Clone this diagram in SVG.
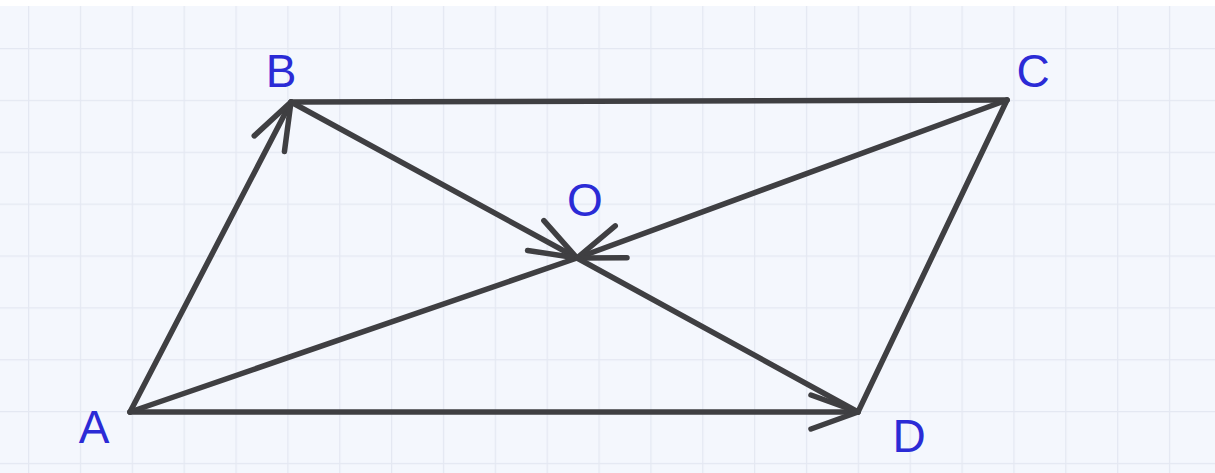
<svg xmlns="http://www.w3.org/2000/svg" width="1215" height="473" viewBox="0 0 1215 473">
  <defs>
    <pattern id="grid" x="28" y="48" width="51.86" height="51.86" patternUnits="userSpaceOnUse">
      <rect width="51.86" height="51.86" fill="#f4f7fd"/>
      <path d="M 0 0 L 51.86 0 M 0 0 L 0 51.86" stroke="#e4e8f2" stroke-width="2.5" fill="none"/>
    </pattern>
    <marker id="chev" markerUnits="userSpaceOnUse" markerWidth="120" markerHeight="120" viewBox="-60 -60 120 120" refX="0" refY="0" orient="auto" overflow="visible">
      <path d="M -47 -17 L 0 0 L -47 17" fill="none" stroke="#3f3f42" stroke-width="5.5" stroke-linecap="round" stroke-linejoin="round"/>
    </marker>
  </defs>
  <style>
    .edge { fill: none; stroke: #3f3f42; stroke-width: 5.5; stroke-linecap: round; stroke-linejoin: round; }
    .arrow { marker-end: url(#chev); }
    .lbl { font-family: "Liberation Sans", Arial, sans-serif; font-size: 46px; fill: #2b2bd6; text-anchor: middle; }
  </style>
  <rect x="0" y="0" width="1215" height="473" fill="#ffffff"/>
  <rect x="0" y="6" width="1215" height="467" fill="url(#grid)"/>

  <g id="connectors">
    <line class="edge arrow" x1="130" y1="412" x2="291" y2="102"/>
    <line class="edge" x1="291" y1="102" x2="1007" y2="100"/>
    <line class="edge" x1="1007" y1="100" x2="858" y2="412"/>
    <line class="edge arrow" x1="130" y1="412" x2="858" y2="412"/>
    <line class="edge" x1="130" y1="412" x2="577" y2="258"/>
    <line class="edge arrow" x1="291" y1="102" x2="577" y2="258"/>
    <line class="edge arrow" x1="1007" y1="100" x2="577" y2="258"/>
    <line class="edge" x1="577" y1="258" x2="858" y2="412"/>
  </g>

  <g id="node-A"><text class="lbl" x="94" y="443">A</text></g>
  <g id="node-B"><text class="lbl" x="281" y="87">B</text></g>
  <g id="node-C"><text class="lbl" x="1033" y="87">C</text></g>
  <g id="node-D"><text class="lbl" x="909" y="452">D</text></g>
  <g id="node-O"><text class="lbl" x="585" y="216">O</text></g>
</svg>
